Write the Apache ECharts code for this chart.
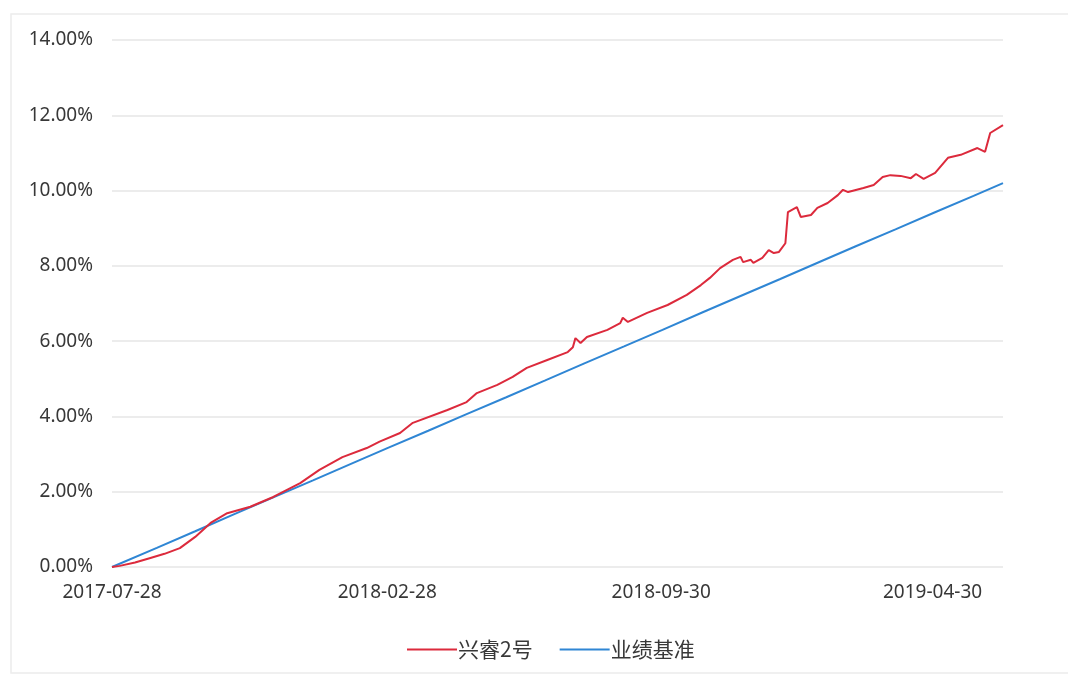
<!DOCTYPE html>
<html>
<head>
<meta charset="utf-8">
<script src="https://cdn.jsdelivr.net/npm/echarts@6/dist/echarts.min.js"></script>
<style>
html,body{margin:0;padding:0;background:#fff;}
#chart{width:1068px;height:677px;}
</style>
</head>
<body>
<div id="chart"></div>
<script>
const seriesNames = ['兴睿2号', '业绩基准'];
const xTickLabels = ['2017-07-28', '2018-02-28', '2018-09-30', '2019-04-30'];
const yTicks = [0, 2, 4, 6, 8, 10, 12, 14];

const fundDates = [
  '2017-07-28','2017-08-03','2017-08-15','2017-08-27','2017-09-07','2017-09-19','2017-10-01','2017-10-13',
  '2017-10-26','2017-11-13','2017-12-01','2017-12-22','2018-01-06','2018-01-24','2018-02-12','2018-02-22',
  '2018-03-10','2018-03-20','2018-04-16','2018-05-01','2018-05-09','2018-05-25','2018-06-06','2018-06-17',
  '2018-07-03','2018-07-19','2018-07-23','2018-07-25','2018-07-29','2018-08-03','2018-08-19','2018-08-29',
  '2018-08-31','2018-09-04','2018-09-19','2018-10-05','2018-10-20','2018-10-31','2018-11-07','2018-11-15',
  '2018-11-25','2018-12-01','2018-12-03','2018-12-09','2018-12-11','2018-12-18','2018-12-23','2018-12-27',
  '2018-12-31','2019-01-05','2019-01-07','2019-01-14','2019-01-17','2019-01-25','2019-01-30','2019-02-07',
  '2019-02-15','2019-02-19','2019-02-23','2019-03-07','2019-03-15','2019-03-22','2019-03-28','2019-04-05',
  '2019-04-13','2019-04-17','2019-04-23','2019-05-02','2019-05-12','2019-05-22','2019-06-04','2019-06-10',
  '2019-06-14','2019-06-24'
];
const fundValues = [
  0.00, 0.03, 0.12, 0.24, 0.35, 0.50, 0.80, 1.17,
  1.43, 1.60, 1.86, 2.23, 2.58, 2.92, 3.16, 3.33,
  3.56, 3.83, 4.17, 4.38, 4.62, 4.84, 5.05, 5.29,
  5.50, 5.71, 5.84, 6.08, 5.95, 6.11, 6.30, 6.48,
  6.62, 6.51, 6.75, 6.96, 7.23, 7.49, 7.68, 7.94,
  8.16, 8.24, 8.10, 8.16, 8.08, 8.21, 8.42, 8.34,
  8.37, 8.60, 9.43, 9.56, 9.30, 9.35, 9.54, 9.67,
  9.88, 10.02, 9.96, 10.07, 10.15, 10.36, 10.41, 10.39,
  10.33, 10.44, 10.31, 10.47, 10.87, 10.95, 11.13, 11.03,
  11.53, 11.74
];

const benchDates = [
  '2017-07-28','2017-09-01','2017-10-01','2017-11-01','2017-12-01','2018-01-01','2018-02-01','2018-03-01',
  '2018-04-01','2018-05-01','2018-06-01','2018-07-01','2018-08-01','2018-09-01','2018-10-01','2018-11-01',
  '2018-12-01','2019-01-01','2019-02-01','2019-03-01','2019-04-01','2019-05-01','2019-06-01','2019-06-24'
];
const benchValues = [
  0.00, 0.51, 0.95, 1.41, 1.85, 2.30, 2.76, 3.17,
  3.62, 4.06, 4.51, 4.95, 5.41, 5.86, 6.30, 6.76,
  7.20, 7.65, 8.11, 8.52, 8.97, 9.41, 9.86, 10.20
];

function ts(s){ const p = s.split('-').map(Number); return Date.UTC(p[0], p[1]-1, p[2]); }
function fmt(t){ const d = new Date(t); const m = d.getUTCMonth()+1, dd = d.getUTCDate();
  return d.getUTCFullYear() + '-' + (m<10?'0':'') + m + '-' + (dd<10?'0':'') + dd; }

const chart = echarts.init(document.getElementById('chart'), null, {renderer:'canvas'});
const axisFont = 'Noto Sans';
chart.setOption({
  animation: false,
  backgroundColor: '#ffffff',
  graphic: [{
    type: 'polyline',
    shape: { points: [[1075, 14], [11, 14], [11, 673], [1075, 673]] },
    style: { stroke: '#ececec', lineWidth: 1.5, fill: null },
    silent: true
  }],
  grid: { left: 112, right: 65, top: 40, bottom: 110, containLabel: false },
  legend: {
    left: 402, top: 634,
    icon: 'rect',
    itemWidth: 50, itemHeight: 2, itemGap: 27,
    textStyle: { fontFamily: 'Noto Sans CJK SC', fontSize: 21, color: '#383838', padding: [0,0,0,-4] },
    data: seriesNames
  },
  xAxis: {
    type: 'value',
    min: ts('2017-07-28'),
    max: ts('2019-06-24'),
    axisLine: { show: false },
    axisTick: { show: false },
    splitLine: { show: false },
    axisLabel: {
      customValues: xTickLabels.map(ts),
      formatter: function (v) { return fmt(v); },
      fontFamily: axisFont, fontSize: 19, color: '#383838', margin: 16,
      showMinLabel: true, showMaxLabel: true, hideOverlap: false
    }
  },
  yAxis: {
    type: 'value',
    min: yTicks[0], max: yTicks[yTicks.length-1], interval: 2,
    axisLine: { show: false },
    axisTick: { show: false },
    splitLine: { show: true, lineStyle: { color: '#e6e6e6', width: 1.5 } },
    axisLabel: {
      formatter: function (v) { return v.toFixed(2) + '%'; },
      fontFamily: axisFont, fontSize: 19, color: '#383838', margin: 19
    }
  },
  series: [
    {
      name: seriesNames[0], type: 'line', symbol: 'none', smooth: false,
      lineStyle: { color: '#dc2a3c', width: 2 }, itemStyle: { color: '#dc2a3c' },
      data: fundDates.map((d, i) => [ts(d), fundValues[i]]),
      z: 3
    },
    {
      name: seriesNames[1], type: 'line', symbol: 'none', smooth: false,
      lineStyle: { color: '#2f86d4', width: 2 }, itemStyle: { color: '#2f86d4' },
      data: benchDates.map((d, i) => [ts(d), benchValues[i]]),
      z: 2
    }
  ]
});
</script>
</body>
</html>
